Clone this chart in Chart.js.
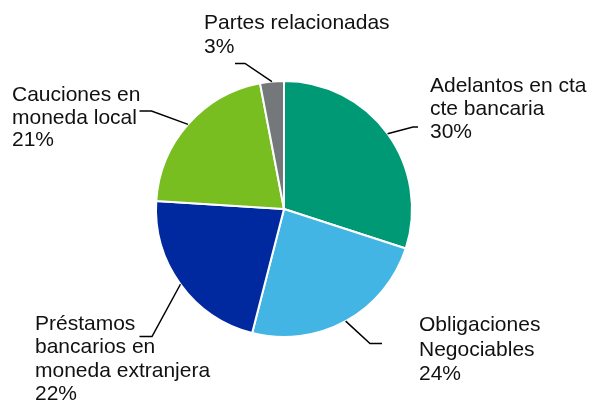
<!DOCTYPE html>
<html>
<head>
<meta charset="utf-8">
<script src="https://cdn.jsdelivr.net/npm/chart.js@4.4.0/dist/chart.umd.min.js"></script>
<style>
  html, body { margin: 0; padding: 0; background: #fff; }
  #wrap { width: 592px; height: 402px; }
</style>
</head>
<body>
<div id="wrap"><canvas id="c" width="592" height="402"></canvas></div>
<script>
// ---- data ----
const categories = [
  ["Adelantos en cta", "cte bancaria"],
  ["Obligaciones", "Negociables"],
  ["Préstamos", "bancarios en", "moneda extranjera"],
  ["Cauciones en", "moneda local"],
  ["Partes relacionadas"]
];
const values = [30, 24, 22, 21, 3];
const colors = ["#009975", "#42B5E5", "#0029A0", "#78BE21", "#75787B"];

// label layout (text anchor, leader elbow/end) — presentation only
const labelLayout = [
  { x: 430, y: 92,  lh: 23, elbow: [413, 127], end: [418, 127] },
  { x: 419, y: 331, lh: 24.5, elbow: [370, 343.5], end: [382, 343.5] },
  { x: 35,  y: 330, lh: 23.3, elbow: [152, 336.5], end: [139.5, 336.5] },
  { x: 12,  y: 101, lh: 22.7, elbow: [151.5, 111], end: [139.5, 111] },
  { x: 204, y: 28.5, lh: 24.3, elbow: [245, 63.5], end: [235, 63.5] }
];

const labelPlugin = {
  id: 'pieLabels',
  afterDraw(chart) {
    const ctx = chart.ctx;
    const meta = chart.getDatasetMeta(0);
    ctx.save();
    meta.data.forEach((arc, i) => {
      const p = arc.getProps(['x', 'y', 'startAngle', 'endAngle', 'outerRadius'], true);
      const mid = (p.startAngle + p.endAngle) / 2;
      const sx = p.x + Math.cos(mid) * p.outerRadius;
      const sy = p.y + Math.sin(mid) * p.outerRadius;
      const L = labelLayout[i];
      ctx.strokeStyle = '#000';
      ctx.lineWidth = 1.5;
      ctx.beginPath();
      ctx.moveTo(sx, sy);
      ctx.lineTo(L.elbow[0], L.elbow[1]);
      ctx.lineTo(L.end[0], L.end[1]);
      ctx.stroke();
      ctx.fillStyle = '#111';
      ctx.font = '21px "Liberation Sans", Arial, sans-serif';
      ctx.textAlign = 'left';
      ctx.textBaseline = 'alphabetic';
      const lines = categories[i].concat([values[i] + '%']);
      lines.forEach((t, k) => ctx.fillText(t, L.x, L.y + k * L.lh));
    });
    ctx.restore();
  }
};

new Chart(document.getElementById('c'), {
  type: 'pie',
  data: {
    labels: categories.map(c => c.join(' ')),
    datasets: [{
      data: values,
      backgroundColor: colors,
      borderColor: '#ffffff',
      borderWidth: 2,
      hoverOffset: 0,
      offset: 0,
      radius: 128
    }]
  },
  options: {
    responsive: false,
    animation: false,
    layout: { padding: { left: 0, right: 24, top: 16, bottom: 0 } },
    plugins: {
      legend: { display: false },
      tooltip: { enabled: false }
    },
    events: []
  },
  plugins: [labelPlugin]
});
</script>
</body>
</html>
